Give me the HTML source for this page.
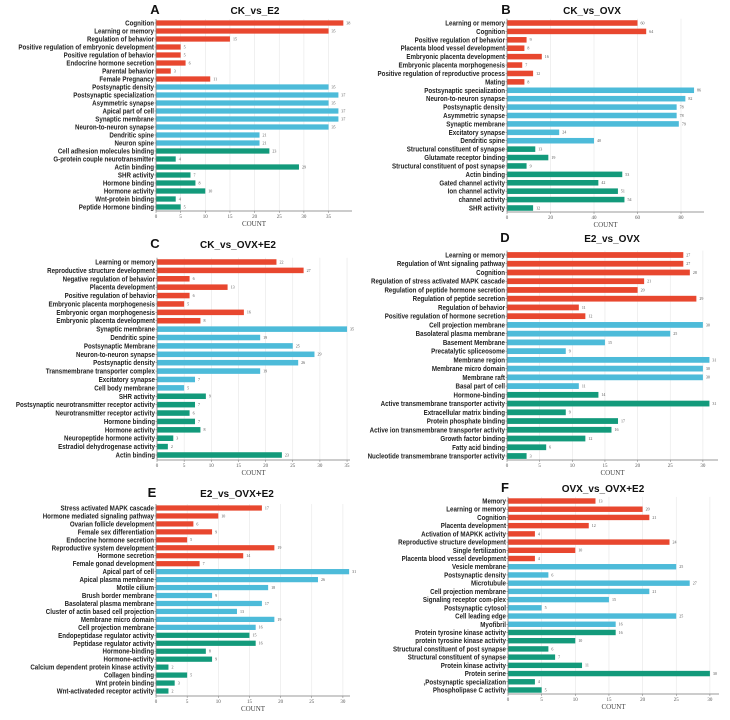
<!DOCTYPE html>
<html><head><meta charset="utf-8">
<style>
html,body{margin:0;padding:0;background:#fff;}
svg{display:block;font-family:"Liberation Sans",sans-serif;}
.lbl{font-weight:bold;font-size:7.2px;fill:#222;}
.val{font-family:"Liberation Serif",serif;font-size:4px;fill:#555;}
.tick{font-family:"Liberation Serif",serif;font-size:5px;fill:#555;}
.xt{font-family:"Liberation Serif",serif;font-size:7px;fill:#444;}
.pl{font-weight:bold;font-size:13px;fill:#111;}
.pt{font-weight:bold;font-size:10px;fill:#111;}
</style></head>
<body>
<svg id="fig" width="730" height="720" viewBox="0 0 730 720" xmlns="http://www.w3.org/2000/svg"></svg>
<script>
// Panel A: CK_vs_E2
const labelsA = ["Cognition","Learning or memory","Regulation of behavior","Positive regulation of embryonic development","Positive regulation of behavior","Endocrine hormone secretion","Parental behavior","Female Pregnancy","Postsynaptic density","Postsynaptic specialization","Asymmetric synapse","Apical part of cell","Synaptic membrane","Neuron-to-neuron synapse","Dendritic spine","Neuron spine","Cell adhesion molecules binding","G-protein couple neurotransmitter","Actin binding","SHR activity","Hormone binding","Hormone activity","Wnt-protein binding","Peptide Hormone binding"];
const valuesA = [38,35,15,5,5,6,3,11,35,37,35,37,37,35,21,21,23,4,29,7,8,10,4,5];
const groupsA = ["BP","BP","BP","BP","BP","BP","BP","BP","CC","CC","CC","CC","CC","CC","CC","CC","MF","MF","MF","MF","MF","MF","MF","MF"];
const ticksA = [0,5,10,15,20,25,30,35];
// Panel B: CK_vs_OVX
const labelsB = ["Learning or memory","Cognition","Positive regulation of behavior","Placenta blood vessel development","Embryonic placenta development","Embryonic placenta morphogenesis","Positive regulation of reproductive process","Mating","Postsynaptic specialization","Neuron-to-neuron synapse","Postsynaptic density","Asymmetric synapse","Synaptic membrane","Excitatory synapse","Dendritic spine","Structural constituent of synapse","Glutamate receptor binding","Structural constituent of post synapse","Actin binding","Gated channel activity","Ion channel activity","channel activity","SHR activity"];
const valuesB = [60,64,9,8,16,7,12,8,86,82,78,78,79,24,40,13,19,9,53,42,51,54,12];
const groupsB = ["BP","BP","BP","BP","BP","BP","BP","BP","CC","CC","CC","CC","CC","CC","CC","MF","MF","MF","MF","MF","MF","MF","MF"];
const ticksB = [0,20,40,60,80];
// Panel C: CK_vs_OVX+E2
const labelsC = ["Learning or memory","Reproductive structure development","Negative regulation of behavior","Placenta development","Positive regulation of behavior","Embryonic placenta morphogenesis","Embryonic organ morphogenesis","Embryonic placenta development","Synaptic membrane","Dendritic spine","Postsynaptic Membrane","Neuron-to-neuron synapse","Postsynaptic density","Transmembrane transporter complex","Excitatory synapse","Cell body membrane","SHR activity","Postsynaptic neurotransmitter receptor activity","Neurotransmitter receptor activity","Hormone binding","Hormone activity","Neuropeptide hormone activity","Estradiol dehydrogenase activity","Actin binding"];
const valuesC = [22,27,6,13,6,5,16,8,35,19,25,29,26,19,7,5,9,7,6,7,8,3,2,23];
const groupsC = groupsA;
const ticksC = [0,5,10,15,20,25,30,35];
// Panel D: E2_vs_OVX
const labelsD = ["Learning or memory","Regulation of Wnt signaling pathway","Cognition","Regulation of stress activated MAPK cascade","Regulation of peptide hormone secretion","Regulation of peptide secretion","Regulation of behavior","Positive regulation of hormone secretion","Cell projection membrane","Basolateral plasma membrane","Basement Membrane","Precatalytic spliceosome","Membrane region","Membrane micro domain","Membrane raft","Basal part of cell","Hormone-binding","Active transmembrane transporter activity","Extracellular matrix binding","Protein phosphate binding","Active ion transmembrane transporter activity","Growth factor binding","Fatty acid binding","Nucleotide transmembrane transporter activity"];
const valuesD = [27,27,28,21,20,29,11,12,30,25,15,9,31,30,30,11,14,31,9,17,16,12,6,3];
const groupsD = groupsA;
const ticksD = [0,5,10,15,20,25,30];
// Panel E: E2_vs_OVX+E2
const labelsE = ["Stress activated MAPK cascade","Hormone mediated signaling pathway","Ovarian follicle development","Female sex differentiation","Endocrine hormone secretion","Reproductive system development","Hormone secretion","Female gonad development","Apical part of cell","Apical plasma membrane","Motile cilium","Brush border membrane","Basolateral plasma membrane","Cluster of actin based cell projection","Membrane micro domain","Cell projection membrane","Endopeptidase regulator activity","Peptidase regulator activity","Hormone-binding","Hormone-activity","Calcium dependent protein kinase activity","Collagen binding","Wnt protein binding","Wnt-activateded receptor activity"];
const valuesE = [17,10,6,9,5,19,14,7,31,26,18,9,17,13,19,16,15,16,8,9,2,5,3,2];
const groupsE = groupsA;
const ticksE = [0,5,10,15,20,25,30];
// Panel F: OVX_vs_OVX+E2
const labelsF = ["Memory","Learning or memory","Cognition","Placenta development","Activation of MAPKK activity","Reproductive structure development","Single fertilization","Placenta blood vessel development","Vesicle membrane","Postsynaptic density","Microtubule","Cell projection membrane","Signaling receptor com-plex","Postsynaptic cytosol","Cell leading edge","Myofibril","Protein tyrosine kinase activity","protein tyrosine kinase activity","Structural constituent of post synapse","Structural constituent of synapse","Protein kinase activity","Protein serine",",Postsynaptic specialization","Phospholipase C activity"];
const valuesF = [13,20,21,12,4,24,10,4,25,6,27,21,15,5,25,16,16,10,6,7,11,30,4,5];
const groupsF = groupsA;
const ticksF = [0,5,10,15,20,25,30];

const COLORS = {BP:"#e8472f", CC:"#4dbbd9", MF:"#139a7b"};
const NS = "http://www.w3.org/2000/svg";
const svg = document.getElementById("fig");
function mk(tag, attrs, parent){
  const e = document.createElementNS(NS, tag);
  for (const k in attrs) e.setAttribute(k, attrs[k]);
  (parent||svg).appendChild(e);
  return e;
}
function panel(id, letter, title, labels, values, groups, ticks, g){
  const grp = mk("g", {});
  
  
  const x = v => g.x0 + v * g.scale;
  const n = labels.length;
  const step = (g.yLast - g.yFirst) / (n - 1);
  const y = i => g.yFirst + i * step;
  const bh = step * 0.66;
  ticks.forEach(t => {
    const gl = mk("line", {x1:x(t), x2:x(t), y1:g.yFirst - step/2, y2:g.axisY, stroke:"#e6e6e6", "stroke-width":0.6}, grp);
    
    
  });
  values.forEach((v, i) => {
    const r = mk("rect", {x:x(0), y:y(i) - bh/2, width:Math.max(0, x(v) - x(0)), height:bh, fill:COLORS[groups[i]]}, grp);
    
    
    const t = mk("text", {x:x(v) + 3, y:y(i) + 1.4, class:"val"}, grp);
    t.textContent = v;
    
    
    const lg = mk("g", {transform:"translate(" + (g.x0 - 2) + "," + (y(i) + 2.5) + ") scale(" + g.sx + ",1)"}, grp);
    const l = mk("text", {x:0, y:0, "text-anchor":"end", class:"lbl"}, lg);
    l.textContent = labels[i];
    
    
    mk("line", {x1:g.x0 - 1.5, x2:g.x0, y1:y(i), y2:y(i), stroke:"#666", "stroke-width":0.5}, grp);
  });
  const ya = mk("line", {x1:g.x0, x2:g.x0, y1:g.yFirst - step/2, y2:g.axisY, stroke:"#777", "stroke-width":0.7}, grp);
  
  
  const xa = mk("line", {x1:g.x0, x2:g.xEnd, y1:g.axisY, y2:g.axisY, stroke:"#777", "stroke-width":0.7}, grp);
  
  
  ticks.forEach(t => {
    mk("line", {x1:x(t), x2:x(t), y1:g.axisY, y2:g.axisY + 2, stroke:"#777", "stroke-width":0.5}, grp);
    const tt = mk("text", {x:x(t), y:g.axisY + 7, "text-anchor":"middle", class:"tick"}, grp);
    tt.textContent = t;
    
    
  });
  const xt = mk("text", {x:(g.x0 + g.xEnd)/2, y:g.axisY + 15, "text-anchor":"middle", class:"xt"}, grp);
  xt.textContent = "COUNT";
  
  
  const pl = mk("text", {x:g.lx, y:g.ty, "text-anchor":"middle", class:"pl"}, grp);
  pl.textContent = letter;
  
  
  const pt = mk("text", {x:g.tx, y:g.ty, "text-anchor":"middle", class:"pt"}, grp);
  pt.textContent = title;
  
  
}
panel("a","A","CK_vs_E2",labelsA,valuesA,groupsA,ticksA,{x0:156,scale:4.93,xEnd:352,yFirst:23,yLast:207,axisY:211,lx:155,tx:255,ty:14,sx:0.86});
panel("b","B","CK_vs_OVX",labelsB,valuesB,groupsB,ticksB,{x0:507,scale:2.175,xEnd:704,yFirst:23,yLast:208,axisY:212,lx:506,tx:592,ty:14,sx:0.86});
panel("c","C","CK_vs_OVX+E2",labelsC,valuesC,groupsC,ticksC,{x0:157,scale:5.43,xEnd:350,yFirst:262,yLast:455,axisY:460,lx:155,tx:238,ty:248,sx:0.86});
panel("d","D","E2_vs_OVX",labelsD,valuesD,groupsD,ticksD,{x0:507,scale:6.53,xEnd:718,yFirst:255,yLast:456,axisY:460,lx:505,tx:612,ty:242,sx:0.86});
panel("e","E","E2_vs_OVX+E2",labelsE,valuesE,groupsE,ticksE,{x0:156,scale:6.23,xEnd:350,yFirst:508,yLast:691,axisY:696,lx:152,tx:237,ty:497,sx:0.86});
panel("f","F","OVX_vs_OVX+E2",labelsF,valuesF,groupsF,ticksF,{x0:508,scale:6.73,xEnd:719,yFirst:501,yLast:690,axisY:694,lx:505,tx:603,ty:492,sx:0.86});
</script>
</body></html>
